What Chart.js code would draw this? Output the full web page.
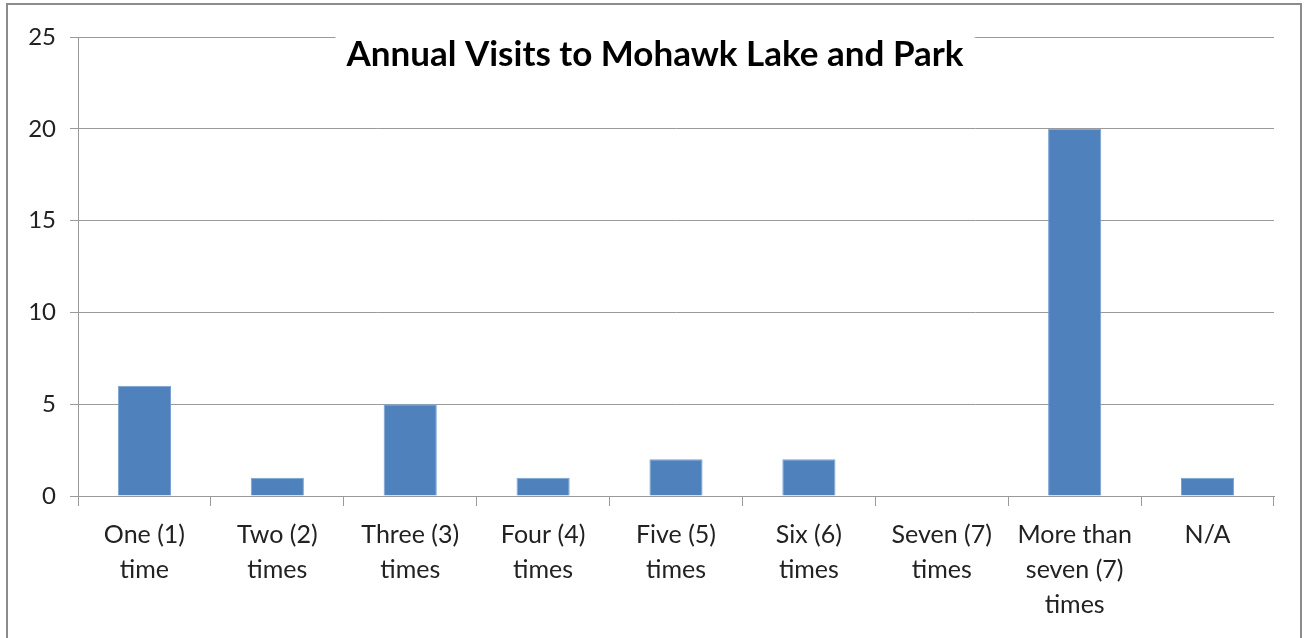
<!DOCTYPE html>
<html>
<head>
<meta charset="utf-8">
<script src="https://cdn.jsdelivr.net/npm/chart.js@4/dist/chart.umd.min.js"></script>
<style>
  html, body { margin: 0; padding: 0; background: #fff; }
  #frame { position: absolute; left: 6px; top: 3px; width: 1296px; height: 700px; border: 2px solid #8c8c8c; box-sizing: border-box; }
  #wrap { position: absolute; left: 0; top: 0; width: 1304px; height: 638px; }
</style>
</head>
<body>
<div id="frame"></div>
<div id="wrap"><canvas id="c" width="1304" height="638"></canvas></div>
<script>
const chartTitle = 'Annual Visits to Mohawk Lake and Park';
const categories = [
  ['One (1)', 'time'],
  ['Two (2)', 'times'],
  ['Three (3)', 'times'],
  ['Four (4)', 'times'],
  ['Five (5)', 'times'],
  ['Six (6)', 'times'],
  ['Seven (7)', 'times'],
  ['More than', 'seven (7)', 'times'],
  ['N/A']
];
const visits = [6, 1, 5, 1, 2, 2, 0, 20, 1];
const yTicks = [0, 5, 10, 15, 20, 25];

const FONT = 'Lato, "Open Sans", sans-serif';

const overlayTitle = {
  id: 'overlayTitle',
  afterDraw(chart) {
    const ctx = chart.ctx;
    ctx.save();
    ctx.font = 'bold 35px ' + FONT;
    const w = ctx.measureText(chartTitle).width;
    const cx = 655;
    const cy = 55;
    ctx.fillStyle = '#ffffff';
    ctx.fillRect(cx - w / 2 - 11, 30, w + 22, 50);
    ctx.fillStyle = '#000000';
    ctx.textAlign = 'center';
    ctx.textBaseline = 'middle';
    ctx.fillText(chartTitle, cx, cy);
    ctx.restore();
  }
};

new Chart(document.getElementById('c'), {
  type: 'bar',
  data: {
    labels: categories,
    datasets: [{
      data: visits,
      backgroundColor: '#4F81BD',
      borderColor: '#7aa2d2',
      borderWidth: 1,
      barPercentage: 0.4,
      categoryPercentage: 1.0
    }]
  },
  options: {
    responsive: false,
    animation: false,
    layout: { padding: { left: 0, right: 30, top: 37, bottom: 0 } },
    plugins: { legend: { display: false }, title: { display: false }, tooltip: { enabled: false } },
    scales: {
      x: {
        offset: true,
        grid: { offset: true, drawOnChartArea: false, drawTicks: true, tickLength: 10, color: '#9a9a9a', lineWidth: 1 },
        border: { display: true, color: '#9a9a9a', width: 1 },
        ticks: { color: '#222', font: { family: FONT, size: 25, lineHeight: 1.4 }, padding: 11, maxRotation: 0, autoSkip: false },
        afterFit(scale) { scale.height = 142; }
      },
      y: {
        min: 0, max: 25,
        afterBuildTicks(scale) { scale.ticks = yTicks.map(v => ({ value: v })); },
        grid: { drawOnChartArea: true, drawTicks: true, tickLength: 8, color: '#9a9a9a', lineWidth: 1 },
        border: { display: true, color: '#9a9a9a', width: 1 },
        ticks: { color: '#222', font: { family: FONT, size: 24 }, padding: 14 },
        afterFit(scale) { scale.width = 78; }
      }
    }
  },
  plugins: [overlayTitle]
});
</script>
</body>
</html>
